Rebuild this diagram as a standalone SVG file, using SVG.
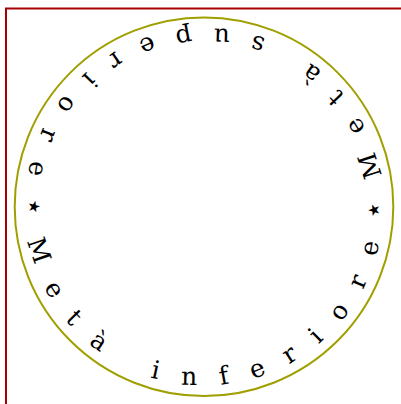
<svg xmlns="http://www.w3.org/2000/svg" xmlns:xlink="http://www.w3.org/1999/xlink" width="401" height="404" viewBox="0 0 401 404">
  <style>
    .frame { fill: none; stroke: #a80000; stroke-width: 2; }
    .ring { fill: none; stroke: #a09f00; stroke-width: 2; }
    .ringtext { font-family: "DejaVu Serif", "Liberation Serif", serif; font-size: 25px; fill: #000; letter-spacing: 23.66px; }
    .star { font-size: 30px; }
  </style>
  <defs>
    <path id="textcircle" d="M380.28,175.62 A179,179 0 0 0 27.72,237.78 A179,179 0 0 0 380.28,175.62"/>
  </defs>
  <rect width="401" height="404" fill="#fff"/>
  <g id="frame">
    <path class="frame" d="M6,410 L6,8.5 L410,8.5"/>
  </g>
  <g id="ring">
    <circle class="ring" cx="204" cy="206.7" r="189.3"/>
    <text class="ringtext"><textPath xlink:href="#textcircle" href="#textcircle">Metà <tspan dx="-5">superiore</tspan><tspan class="star">⋆</tspan>Metà inferiore<tspan class="star">⋆</tspan></textPath></text>
  </g>
</svg>
